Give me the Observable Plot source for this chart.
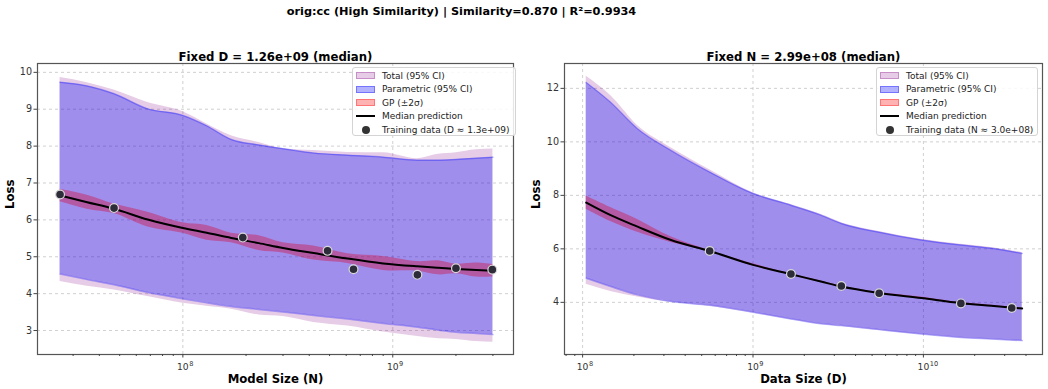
<!DOCTYPE html>
<html><head><meta charset="utf-8">
<script src="https://cdn.jsdelivr.net/npm/d3@7"></script>
<script src="https://cdn.jsdelivr.net/npm/@observablehq/plot@0.6"></script>
<style>
body{margin:0;background:#fff;font-family:"DejaVu Sans",sans-serif;}
#fig{position:relative;width:1048px;height:389px;overflow:hidden;background:#fff;}
#title{position:absolute;top:5px;left:0;width:923px;text-align:center;font-weight:bold;font-size:11.3px;line-height:14px;color:#000;}
.panel{position:absolute;top:40px;}
.legend{position:absolute;top:67px;height:69px;background:rgba(255,255,255,0.85);border:1px solid #d4d4d4;border-radius:3px;font-size:9px;color:#222;box-sizing:border-box;padding-top:1px;}
.row{display:flex;align-items:center;height:13.5px;}
.sw{width:19px;height:7px;margin-left:3px;margin-right:7px;position:relative;}
.ln{width:19px;height:2px;margin-left:3px;margin-right:7px;background:#000;}
.dt{width:19px;margin-left:3px;margin-right:7px;display:flex;justify-content:center;}
.dt span{display:block;width:8px;height:8px;border-radius:50%;background:#333;}
</style></head>
<body>
<div id="fig">
  <div id="title">orig:cc (High Similarity) | Similarity=0.870 | R²=0.9934</div>
</div>
<script>
// ---------- Left panel: Fixed D = 1.26e+09 ----------
const leftN      = [2.6e7, 3.5e7, 4.7e7, 6.8e7, 1.0e8, 1.3e8, 1.7e8, 2.3e8, 3.0e8, 4.2e8, 6.1e8, 9.0e8, 1.31e9, 1.65e9, 2.0e9, 2.5e9, 3.0e9];
const leftMedian = [6.66, 6.48, 6.30, 6.01, 5.78, 5.65, 5.51, 5.37, 5.24, 5.10, 4.95, 4.82, 4.74, 4.70, 4.67, 4.64, 4.62];
const leftGpHi   = [6.83, 6.67, 6.43, 6.21, 5.92, 5.85, 5.64, 5.57, 5.38, 5.29, 5.08, 5.01, 4.87, 4.89, 4.80, 4.83, 4.79];
const leftGpLo   = [6.49, 6.29, 6.17, 5.81, 5.64, 5.45, 5.38, 5.17, 5.10, 4.91, 4.82, 4.63, 4.61, 4.51, 4.54, 4.45, 4.45];
const leftParHi  = [9.73, 9.63, 9.42, 9.01, 8.83, 8.55, 8.18, 8.03, 7.93, 7.81, 7.75, 7.70, 7.62, 7.62, 7.64, 7.67, 7.70];
const leftParLo  = [4.53, 4.38, 4.24, 4.03, 3.86, 3.75, 3.65, 3.57, 3.50, 3.41, 3.31, 3.19, 3.09, 3.01, 2.95, 2.92, 2.89];
const leftTotHi  = [9.86, 9.72, 9.52, 9.18, 8.93, 8.60, 8.28, 8.10, 7.93, 7.88, 7.83, 7.82, 7.66, 7.78, 7.82, 7.90, 7.92];
const leftTotLo  = [4.33, 4.20, 4.10, 3.92, 3.74, 3.66, 3.58, 3.42, 3.38, 3.22, 3.12, 2.96, 2.84, 2.78, 2.76, 2.70, 2.68];
const leftTrainN    = [2.6e7, 4.7e7, 1.93e8, 4.89e8, 6.5e8, 1.31e9, 2.0e9, 2.98e9];
const leftTrainLoss = [6.69, 6.32, 5.52, 5.16, 4.66, 4.51, 4.69, 4.65];
const leftYTicks  = [3, 4, 5, 6, 7, 8, 9, 10];
const leftXMajor  = [1e8, 1e9];
const leftXMinor  = [3e7, 4e7, 5e7, 6e7, 7e7, 8e7, 9e7, 2e8, 3e8, 4e8, 5e8, 6e8, 7e8, 8e8, 9e8, 2e9, 3e9];

// ---------- Right panel: Fixed N = 2.99e+08 ----------
const rightD      = [1.05e8, 1.46e8, 2.1e8, 3.3e8, 5.57e8, 1.0e9, 1.67e9, 2.5e9, 3.3e9, 5.5e9, 9.7e9, 1.66e10, 2.5e10, 3.8e10];
const rightMedian = [7.73, 7.26, 6.83, 6.33, 5.92, 5.40, 5.05, 4.78, 4.59, 4.35, 4.16, 3.97, 3.87, 3.77];
const rightGpHi   = [7.98, 7.55, 7.10, 6.45, 5.94, 5.44, 5.07, 4.80, 4.61, 4.37, 4.20, 3.99, 3.89, 3.79];
const rightGpLo   = [7.48, 7.02, 6.62, 6.24, 5.90, 5.36, 5.03, 4.76, 4.57, 4.33, 4.13, 3.95, 3.85, 3.75];
const rightParHi  = [12.22, 11.48, 10.49, 9.68, 8.87, 8.07, 7.63, 7.26, 6.95, 6.62, 6.33, 6.14, 6.02, 5.83];
const rightParLo  = [4.90, 4.59, 4.28, 4.03, 3.89, 3.63, 3.38, 3.20, 3.13, 2.98, 2.82, 2.69, 2.63, 2.57];
const rightTotHi  = [12.45, 11.73, 10.61, 9.78, 8.96, 8.10, 7.66, 7.29, 6.98, 6.65, 6.36, 6.17, 6.05, 5.86];
const rightTotLo  = [4.68, 4.41, 4.20, 4.00, 3.85, 3.60, 3.35, 3.17, 3.10, 2.95, 2.79, 2.66, 2.60, 2.54];
const rightTrainD    = [5.57e8, 1.67e9, 3.3e9, 5.5e9, 1.66e10, 3.3e10];
const rightTrainLoss = [5.92, 5.06, 4.61, 4.34, 3.96, 3.79];
const rightYTicks = [4, 6, 8, 10, 12];
const rightXMajor = [1e8, 1e9, 1e10];
const rightXMinor = [8e7, 9e7, 2e8, 3e8, 4e8, 5e8, 6e8, 7e8, 8e8, 9e8, 2e9, 3e9, 4e9, 5e9, 6e9, 7e9, 8e9, 9e9, 2e10, 3e10, 4e10];

const legendLabels = ["Total (95% CI)", "Parametric (95% CI)", "GP (±2σ)", "Median prediction"];

function panel(o) {
  const rows = o.x.map((v, i) => ({x: v, med: o.med[i], gpLo: o.gpLo[i], gpHi: o.gpHi[i],
    parLo: o.parLo[i], parHi: o.parHi[i], totLo: o.totLo[i], totHi: o.totHi[i]}));
  const pts = o.ptX.map((v, i) => ({x: v, y: o.ptY[i]}));
  const txt = {fontFamily: "DejaVu Sans", fontWeight: "bold", fill: "#000", text: d => d};
  return Plot.plot({
    width: o.width, height: 349, marginLeft: o.marginLeft, marginRight: o.marginRight,
    marginTop: 23, marginBottom: 35,
    style: {fontFamily: "DejaVu Sans", fontSize: "9.6px", color: "#333", background: "white", overflow: "visible"},
    x: {type: "log", domain: o.xDomain},
    y: {domain: o.yDomain},
    marks: [
      Plot.gridX(o.xMajor, {stroke: "#b0b0b0", strokeOpacity: 0.6, strokeDasharray: "3,3"}),
      Plot.gridY(o.yTicks, {stroke: "#b0b0b0", strokeOpacity: 0.6, strokeDasharray: "3,3"}),
      Plot.areaY(rows, {x: "x", y1: "totLo", y2: "totHi", fill: "purple", fillOpacity: 0.2, curve: "monotone-x"}),
      Plot.areaY(rows, {x: "x", y1: "parLo", y2: "parHi", fill: "blue", fillOpacity: 0.3, curve: "monotone-x"}),
      Plot.line(rows, {x: "x", y: "parHi", stroke: "blue", strokeOpacity: 0.3, curve: "monotone-x"}),
      Plot.line(rows, {x: "x", y: "parLo", stroke: "blue", strokeOpacity: 0.3, curve: "monotone-x"}),
      Plot.areaY(rows, {x: "x", y1: "gpLo", y2: "gpHi", fill: "#d01040", fillOpacity: 0.42, curve: "catmull-rom"}),
      Plot.line(rows, {x: "x", y: "med", stroke: "black", strokeWidth: 2, curve: "monotone-x"}),
      Plot.dot(pts, {x: "x", y: "y", r: 4.4, fill: "#2d2d3a", stroke: "#d8d8d8", strokeWidth: 1.2}),
      Plot.frame({stroke: "#555", strokeWidth: 1.2}),
      Plot.axisX(o.xMajor, {tickSize: 3.5, tickFormat: () => "", label: null, stroke: "#444"}),
      Plot.axisX(o.xMinor, {tickSize: 2, tickFormat: () => "", label: null, stroke: "#444"}),
      // x tick labels: 10 with superscript exponent
      Plot.text(o.xMajor, {x: d => d, text: () => "10", frameAnchor: "bottom", dy: 15, fontSize: 9.2, fill: "#333"}),
      Plot.text(o.xMajor, {x: d => d, text: d => String(Math.round(Math.log10(d))), frameAnchor: "bottom", dy: 11, dx: 6.3,
        textAnchor: "start", fontSize: 6.6, fill: "#333"}),
      Plot.axisY(o.yTicks, {tickSize: 3.5, tickPadding: 2, tickFormat: d => String(d), label: null, stroke: "#444"}),
      Plot.text([o.title], {...txt, frameAnchor: "top", dy: -10.5, fontSize: 11.7}),
      Plot.text([o.xLabel], {...txt, frameAnchor: "bottom", dy: 28, fontSize: 11.7}),
      Plot.text(["Loss"], {...txt, frameAnchor: "left", rotate: -90, dx: o.yLabelDx, fontSize: 11.7})
    ]
  });
}

function legend(left, width, trainLabel) {
  const div = document.createElement("div");
  div.className = "legend";
  div.style.left = left + "px";
  div.style.width = width + "px";
  const swatches = ["rgba(128,0,128,0.2)", "rgba(0,0,255,0.3)", "rgba(255,0,0,0.3)"];
  const borders = ["rgba(128,0,128,0.3)", "rgba(0,0,255,0.35)", "rgba(255,0,0,0.35)"];
  legendLabels.concat([trainLabel]).forEach((lab, i) => {
    const r = document.createElement("div");
    r.className = "row";
    let s;
    if (i < 3) { s = document.createElement("div"); s.className = "sw"; s.style.background = swatches[i]; s.style.border = "1px solid " + borders[i]; s.style.boxSizing = "border-box"; }
    else if (i === 3) { s = document.createElement("div"); s.className = "ln"; }
    else { s = document.createElement("div"); s.className = "dt"; s.appendChild(document.createElement("span")); }
    r.appendChild(s);
    const t = document.createElement("span"); t.textContent = lab; r.appendChild(t);
    div.appendChild(r);
  });
  return div;
}

const fig = document.getElementById("fig");
const p1 = panel({x: leftN, med: leftMedian, gpLo: leftGpLo, gpHi: leftGpHi, parLo: leftParLo, parHi: leftParHi,
  totLo: leftTotLo, totHi: leftTotHi, ptX: leftTrainN, ptY: leftTrainLoss,
  xDomain: [2.03e7, 3.76e9], yDomain: [2.35, 10.24], yTicks: leftYTicks, xMajor: leftXMajor, xMinor: leftXMinor,
  title: "Fixed D = 1.26e+09 (median)", xLabel: "Model Size (N)", width: 525, marginLeft: 37, marginRight: 12, yLabelDx: -27});
p1.classList.add("panel"); p1.style.left = "0px";
fig.appendChild(p1);

const p2 = panel({x: rightD, med: rightMedian, gpLo: rightGpLo, gpHi: rightGpHi, parLo: rightParLo, parHi: rightParHi,
  totLo: rightTotLo, totHi: rightTotHi, ptX: rightTrainD, ptY: rightTrainLoss,
  xDomain: [7.83e7, 5.0e10], yDomain: [2.05, 12.93], yTicks: rightYTicks, xMajor: rightXMajor, xMinor: rightXMinor,
  title: "Fixed N = 2.99e+08 (median)", xLabel: "Data Size (D)", width: 523, marginLeft: 39, marginRight: 6, yLabelDx: -28});
p2.classList.add("panel"); p2.style.left = "525px";
fig.appendChild(p2);

fig.appendChild(legend(352, 164, "Training data (D ≈ 1.3e+09)"));
fig.appendChild(legend(876, 162, "Training data (N ≈ 3.0e+08)"));
</script>
</body></html>
